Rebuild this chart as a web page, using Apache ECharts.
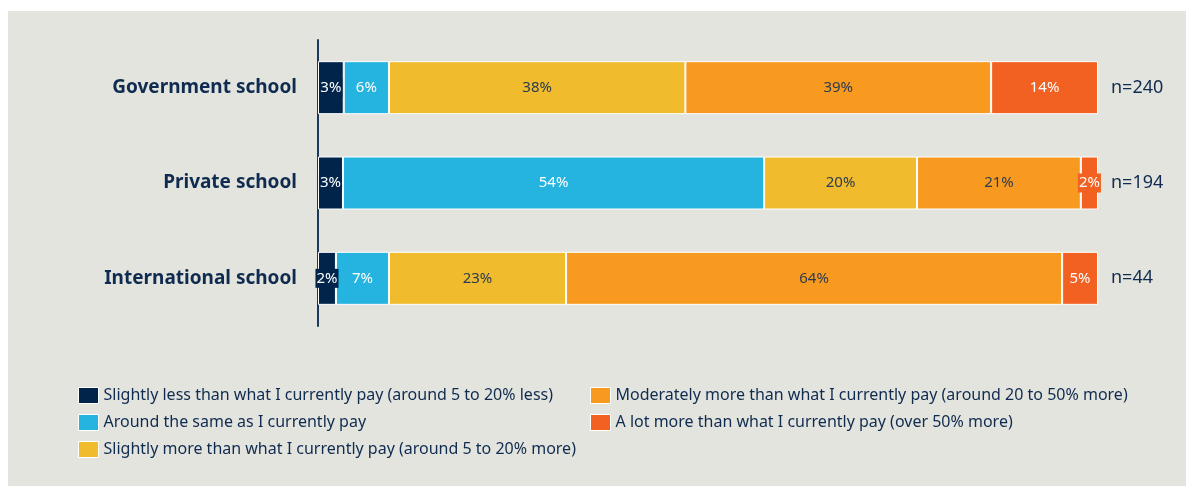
<!DOCTYPE html>
<html>
<head>
<meta charset="utf-8">
<script src="https://cdn.jsdelivr.net/npm/echarts@6/dist/echarts.min.js"></script>
<style>
  body { margin: 0; background: #fff; }
  #chart { position: absolute; left: 8px; top: 11px; width: 1178px; height: 475px; background: #e4e4df; }
</style>
</head>
<body>
<div id="chart"></div>
<script>
// categories, top to bottom
const schools = ['Government school', 'Private school', 'International school']
const sampleSizes = ['n=240', 'n=194', 'n=44']
const seriesNames = [
  'Slightly less than what I currently pay (around 5 to 20% less)',
  'Around the same as I currently pay',
  'Slightly more than what I currently pay (around 5 to 20% more)',
  'Moderately more than what I currently pay (around 20 to 50% more)',
  'A lot more than what I currently pay (over 50% more)',
]
// shares in %, one array per answer, order = schools
const slightlyLess = [3.3, 3.2, 2.3]
const aroundSame = [5.8, 54.0, 6.8]
const slightlyMore = [38.0, 19.6, 22.7]
const moderatelyMore = [39.2, 21.0, 63.6]
const aLotMore = [13.7, 2.2, 4.6]

const values = [slightlyLess, aroundSame, slightlyMore, moderatelyMore, aLotMore]
const colors = ['#00244a', '#25b3e0', '#f0bc2e', '#f89a20', '#f26122']
const labelColors = ['#ffffff', '#ffffff', '#2b3b50', '#2b3b50', '#ffffff']
const navy = '#0f2b4f'
const font = 'Noto Sans'

const chart = echarts.init(document.getElementById('chart'))

const series = values.map((data, i) => ({
  name: seriesNames[i],
  type: 'bar',
  stack: 'total',
  barWidth: 53,
  data,
  itemStyle: { color: colors[i], borderColor: '#ffffff', borderWidth: 1 },
  label: {
    show: true,
    position: 'inside',
    formatter: (p) => Math.round(p.value) + '%',
    color: labelColors[i],
    fontFamily: font,
    fontSize: 15,
    backgroundColor: colors[i], // small segments spill over
    padding: [2, 1],
  },
}))

const legendBase = {
  orient: 'vertical',
  top: 371,
  itemWidth: 20,
  itemHeight: 16,
  itemGap: 10,
  icon: 'rect',
  itemStyle: { borderColor: '#ffffff', borderWidth: 1 },
  textStyle: { color: navy, fontSize: 16, fontFamily: font },
}

chart.setOption({
  animation: false,
  textStyle: { fontFamily: font },
  grid: { left: 310, right: 88, top: 29, bottom: 160 },
  legend: [
    { ...legendBase, data: seriesNames.slice(0, 3), left: 65 },
    { ...legendBase, data: seriesNames.slice(3), left: 577 },
  ],
  xAxis: { type: 'value', min: 0, max: 100, show: false },
  yAxis: [
    {
      type: 'category',
      data: schools,
      inverse: true,
      axisLine: { lineStyle: { color: '#1d3a5e', width: 2 } },
      axisTick: { show: false },
      axisLabel: { color: navy, fontWeight: 'bold', fontSize: 19, margin: 21, fontFamily: font },
    },
    {
      type: 'category',
      data: sampleSizes,
      inverse: true,
      position: 'right',
      axisLine: { show: false },
      axisTick: { show: false },
      axisLabel: { color: navy, fontSize: 18, margin: 13, fontFamily: font },
    },
  ],
  series,
})
</script>
</body>
</html>
